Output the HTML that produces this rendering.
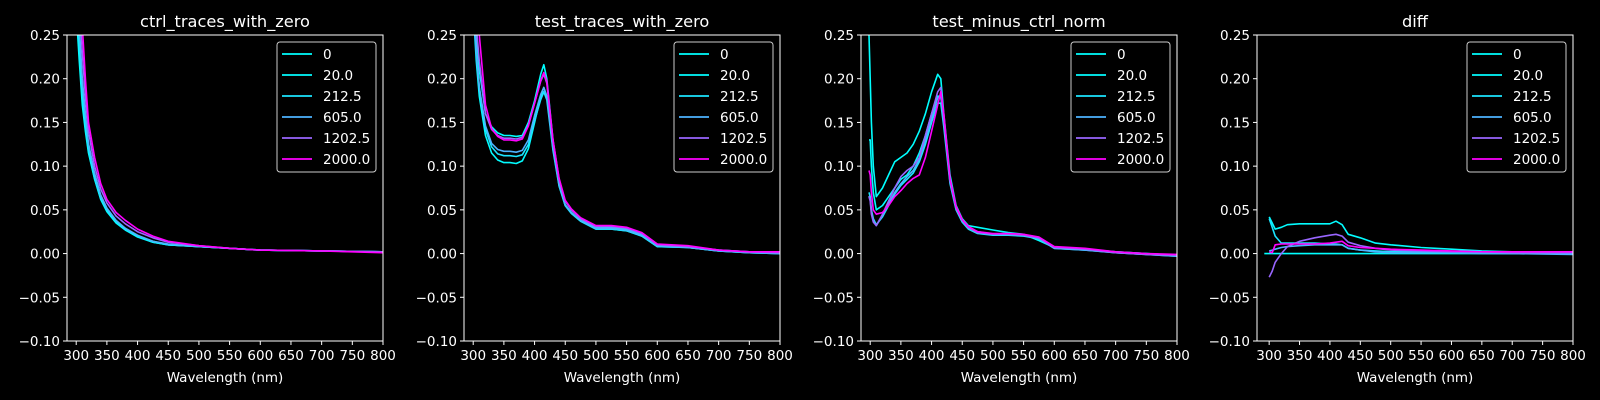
<!DOCTYPE html>
<html><head><meta charset="utf-8"><style>
html,body{margin:0;padding:0;background:#000;}
svg{display:block;font-family:"DejaVu Sans","Liberation Sans",sans-serif;}
</style></head><body>
<svg id="fig" width="1600" height="400" viewBox="0 0 1600 400"></svg>
<script>
const seriesLabels = ["0","20.0","212.5","605.0","1202.5","2000.0"];
const seriesColors = ["#00ffff","#03fcff","#1be4ff","#4db2ff","#9966ff","#ff00ff"];
const panelTitles = ["ctrl_traces_with_zero","test_traces_with_zero","test_minus_ctrl_norm","diff"];
const xTicks = [300,350,400,450,500,550,600,650,700,750,800];
const yTicks = [-0.10,-0.05,0.00,0.05,0.10,0.15,0.20,0.25];

// panel 1
const wl1 = [298,305,310,315,320,330,340,350,365,380,400,425,450,500,550,600,700,800];
const p1 = [
 [0.30,0.22,0.17,0.14,0.115,0.085,0.062,0.048,0.035,0.027,0.019,0.013,0.010,0.008,0.006,0.004,0.003,0.002],
 [0.31,0.23,0.175,0.143,0.117,0.086,0.063,0.049,0.036,0.028,0.020,0.013,0.010,0.008,0.006,0.004,0.003,0.002],
 [0.33,0.24,0.185,0.15,0.12,0.088,0.064,0.050,0.037,0.028,0.020,0.014,0.010,0.008,0.006,0.004,0.003,0.002],
 [0.35,0.26,0.20,0.16,0.126,0.092,0.067,0.052,0.038,0.029,0.021,0.014,0.011,0.008,0.006,0.004,0.003,0.002],
 [0.38,0.29,0.23,0.18,0.14,0.10,0.074,0.058,0.043,0.034,0.025,0.018,0.013,0.009,0.006,0.004,0.003,0.002],
 [0.40,0.32,0.26,0.20,0.15,0.11,0.08,0.062,0.047,0.038,0.028,0.020,0.014,0.009,0.006,0.004,0.003,0.001]
];
// panel 2
const wl2 = [300,305,310,320,330,340,350,360,370,380,390,400,410,415,420,430,440,450,460,475,500,525,550,575,600,650,700,750,800];
const p2 = [
 [0.30,0.25,0.21,0.16,0.145,0.138,0.135,0.135,0.134,0.135,0.150,0.175,0.205,0.216,0.200,0.130,0.085,0.060,0.050,0.040,0.030,0.030,0.028,0.022,0.010,0.008,0.004,0.002,0.001],
 [0.28,0.22,0.18,0.135,0.115,0.107,0.104,0.104,0.103,0.106,0.120,0.150,0.180,0.190,0.180,0.120,0.078,0.055,0.046,0.037,0.028,0.028,0.026,0.020,0.008,0.007,0.003,0.001,0.000],
 [0.29,0.23,0.19,0.142,0.122,0.114,0.112,0.112,0.111,0.113,0.125,0.152,0.176,0.185,0.176,0.118,0.077,0.055,0.046,0.037,0.028,0.028,0.026,0.020,0.008,0.007,0.003,0.001,0.000],
 [0.29,0.23,0.19,0.146,0.126,0.119,0.117,0.117,0.116,0.118,0.130,0.158,0.182,0.190,0.180,0.121,0.079,0.056,0.047,0.038,0.029,0.029,0.027,0.021,0.009,0.007,0.003,0.001,0.000],
 [0.32,0.26,0.22,0.16,0.142,0.135,0.132,0.132,0.131,0.133,0.147,0.172,0.197,0.205,0.195,0.128,0.084,0.060,0.050,0.040,0.031,0.031,0.029,0.023,0.010,0.008,0.004,0.002,0.001],
 [0.34,0.28,0.25,0.17,0.143,0.134,0.130,0.130,0.129,0.131,0.146,0.172,0.198,0.207,0.197,0.130,0.086,0.061,0.051,0.041,0.032,0.032,0.030,0.024,0.011,0.009,0.004,0.002,0.002]
];
// panel 3
const wl3 = [298,300,302,305,310,320,330,340,350,360,370,380,390,400,410,415,420,430,440,450,460,475,500,525,550,575,600,650,700,750,800];
const p3 = [
 [0.25,0.20,0.15,0.10,0.065,0.075,0.090,0.105,0.110,0.115,0.125,0.140,0.160,0.185,0.205,0.200,0.160,0.090,0.055,0.040,0.032,0.030,0.027,0.024,0.022,0.015,0.007,0.005,0.002,0.000,-0.002],
 [0.13,0.13,0.10,0.07,0.050,0.055,0.065,0.075,0.085,0.090,0.100,0.115,0.135,0.160,0.180,0.180,0.150,0.085,0.052,0.038,0.030,0.025,0.022,0.022,0.021,0.018,0.007,0.005,0.002,0.000,-0.002],
 [0.07,0.065,0.050,0.040,0.033,0.042,0.055,0.068,0.078,0.085,0.092,0.105,0.125,0.150,0.172,0.172,0.145,0.080,0.050,0.036,0.028,0.023,0.021,0.021,0.020,0.017,0.006,0.004,0.001,-0.001,-0.003],
 [0.066,0.062,0.048,0.038,0.032,0.044,0.057,0.070,0.080,0.088,0.095,0.108,0.130,0.155,0.178,0.180,0.150,0.082,0.051,0.037,0.029,0.024,0.022,0.022,0.021,0.017,0.006,0.004,0.001,-0.001,-0.003],
 [0.065,0.060,0.045,0.036,0.032,0.045,0.060,0.075,0.088,0.095,0.100,0.110,0.135,0.160,0.185,0.190,0.155,0.084,0.052,0.038,0.030,0.024,0.022,0.022,0.021,0.018,0.007,0.005,0.001,-0.001,-0.002],
 [0.095,0.090,0.070,0.050,0.045,0.047,0.055,0.065,0.072,0.080,0.086,0.090,0.110,0.140,0.170,0.185,0.160,0.086,0.054,0.039,0.031,0.025,0.023,0.023,0.022,0.019,0.008,0.006,0.002,0.000,-0.001]
];
// panel 4
const wl4 = [292,300,305,310,320,330,350,375,400,410,420,430,450,475,500,550,600,650,700,800];
const p4 = [
 [0,0,0,0,0,0,0,0,0,0,0,0,0,0,0,0,0,0,0,0],
 [null,0.042,0.035,0.028,0.030,0.033,0.034,0.034,0.034,0.037,0.033,0.022,0.018,0.012,0.010,0.007,0.005,0.003,0.002,0.001],
 [null,0.040,0.030,0.020,0.012,0.012,0.012,0.012,0.011,0.011,0.010,0.006,0.004,0.003,0.002,0.002,0.001,0.001,0.000,0.000],
 [null,0.003,0.004,0.005,0.007,0.008,0.009,0.010,0.010,0.010,0.010,0.006,0.004,0.002,0.001,0.001,0.001,0.000,0.000,-0.001],
 [null,-0.027,-0.020,-0.010,0.000,0.008,0.014,0.018,0.021,0.022,0.020,0.013,0.009,0.006,0.004,0.003,0.002,0.002,0.001,0.001],
 [null,0.002,0.001,0.010,0.011,0.011,0.011,0.011,0.012,0.013,0.014,0.009,0.007,0.006,0.005,0.004,0.003,0.002,0.002,0.002]
];

const panels = [
 {wl:wl1, vals:p1, left:67, xmin:285},
 {wl:wl2, vals:p2, left:464, xmin:285},
 {wl:wl3, vals:p3, left:861, xmin:285},
 {wl:wl4, vals:p4, left:1257, xmin:280}
];
const NS="http://www.w3.org/2000/svg";
const svg=document.getElementById('fig');
const TOP=35, H=306, W=316, YMIN=-0.10, YMAX=0.25, XMAX=800;
function mk(tag,attrs,parent){const e=document.createElementNS(NS,tag);for(const k in attrs)e.setAttribute(k,attrs[k]);(parent||svg).appendChild(e);return e;}
function fmt(v){const s=Math.abs(v).toFixed(2);return (v< -1e-9?"\u2212":"")+s;}

panels.forEach((p,pi)=>{
  const g=mk('g',{});
  
  
  const sx=v=>p.left+(v-p.xmin)/(XMAX-p.xmin)*W;
  const sy=v=>TOP+(YMAX-v)/(YMAX-YMIN)*H;
  const cp=mk('clipPath',{id:'clip'+pi},g);
  mk('rect',{x:p.left,y:TOP,width:W,height:H},cp);
  const sg=mk('g',{'clip-path':'url(#clip'+pi+')'},g);
  p.vals.forEach((vals,si)=>{
    let d='';let started=false;
    vals.forEach((v,i)=>{if(v===null)return;d+=(started?'L':'M')+sx(p.wl[i]).toFixed(1)+','+sy(v).toFixed(1);started=true;});
    const path=mk('path',{d:d,fill:'none',stroke:seriesColors[si],'stroke-width':1.6,'stroke-linejoin':'round'},sg);
    
    
  });
  const fr=mk('rect',{x:p.left,y:TOP,width:W,height:H,fill:'none',stroke:'#fff','stroke-width':1},g);
  
  
  xTicks.forEach(t=>{
    const x=sx(t);
    mk('line',{x1:x,x2:x,y1:TOP+H,y2:TOP+H+4,stroke:'#fff','stroke-width':1},g);
    const tx=mk('text',{x:x,y:TOP+H+19,fill:'#fff','font-size':13.5,'text-anchor':'middle'},g);
    tx.textContent=t;
    
    
  });
  yTicks.forEach(t=>{
    const y=sy(t);
    mk('line',{x1:p.left-4,x2:p.left,y1:y,y2:y,stroke:'#fff','stroke-width':1},g);
    const tx=mk('text',{x:p.left-7,y:y+5,fill:'#fff','font-size':13.5,'text-anchor':'end'},g);
    tx.textContent=fmt(t);
    
    
  });
  const xl=mk('text',{x:p.left+W/2,y:382,fill:'#fff','font-size':13.5,'text-anchor':'middle'},g);
  xl.textContent='Wavelength (nm)';
  
  
  const ti=mk('text',{x:p.left+W/2,y:27,fill:'#fff','font-size':16.2,'text-anchor':'middle'},g);
  ti.textContent=panelTitles[pi];
  
  
  const lg=mk('g',{},g);
  
  
  const lx=p.left+W-106;
  mk('rect',{x:lx,y:42,width:99,height:130,rx:3,fill:'#000',stroke:'#cccccc','stroke-width':1},lg);
  seriesLabels.forEach((lab,si)=>{
    const y=54+si*21;
    const ln=mk('line',{x1:lx+5,x2:lx+35,y1:y,y2:y,stroke:seriesColors[si],'stroke-width':1.8},lg);
    
    
    const tx=mk('text',{x:lx+46,y:y+5,fill:'#fff','font-size':13.5},lg);
    tx.textContent=lab;
    
    
  });
});
</script>
</body></html>
